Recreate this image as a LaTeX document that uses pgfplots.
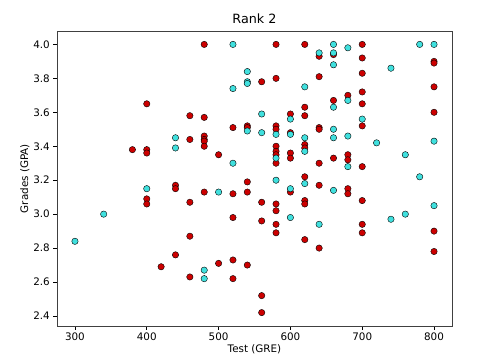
\documentclass[border=0pt]{standalone}
\usepackage{pgfplots}
\pgfplotsset{compat=1.18}
\usepackage{fontspec}
\setmainfont{DejaVu Sans}
\definecolor{ptred}{RGB}{204,0,0}
\definecolor{ptcyan}{RGB}{64,224,222}
\begin{document}
\begin{tikzpicture}
\begin{axis}[
  scale only axis,
  width=395bp, height=295bp,
  xmin=275, xmax=825, ymin=2.341, ymax=4.079,
  xtick={300,400,500,600,700,800},
  ytick={2.4,2.6,2.8,3.0,3.2,3.4,3.6,3.8,4.0},
  yticklabel style={/pgf/number format/.cd, fixed, fixed zerofill, precision=1},
  /pgf/number format/assume math mode=true,
  tick align=outside,
  major tick length=3.7bp,
  tick style={line width=0.6bp, black},
  axis line style={line width=0.7bp, black!75},
  xtick pos=bottom, ytick pos=left,
  ticklabel style={font=\fontsize{10.4}{12}\selectfont, text=black},
  label style={font=\fontsize{10.4}{12}\selectfont, text=black},
  title style={font=\fontsize{12.8}{14}\selectfont, text=black, yshift=-2bp},
  title={Rank 2},
  xlabel={Test (GRE)},
  ylabel={Grades (GPA)},
  xlabel style={yshift=3bp},
  ylabel style={yshift=-3bp},
  every axis plot/.append style={only marks, mark=*, mark size=3.2bp, mark options={line width=0.6bp, draw=black}},
]
% not admitted (red)
\addplot[mark options={fill=ptred}] coordinates {
(380,3.38)
(400,3.65) (400,3.38) (400,3.36) (400,3.09) (400,3.06)
(420,2.69)
(440,3.17) (440,3.15) (440,2.76)
(460,3.58) (460,3.44) (460,3.07) (460,2.87) (460,2.63)
(480,4.00) (480,3.57) (480,3.46) (480,3.44) (480,3.43) (480,3.40) (480,3.13)
(500,3.35) (500,2.71)
(520,3.51) (520,3.12) (520,2.98) (520,2.73) (520,2.62)
(540,3.52) (540,3.51) (540,3.19) (540,3.13) (540,2.70)
(560,3.78) (560,3.07) (560,2.96) (560,2.52) (560,2.42)
(580,4.00) (580,3.80) (580,3.52) (580,3.50) (580,3.40) (580,3.37) (580,3.35) (580,3.30) (580,3.06) (580,3.02) (580,2.94) (580,2.89)
(600,3.59) (600,3.48) (600,3.36) (600,3.33) (600,3.13)
(620,4.00) (620,3.63) (620,3.58) (620,3.41) (620,3.39) (620,3.22) (620,3.08) (620,3.06) (620,2.85)
(640,3.93) (640,3.81) (640,3.51) (640,3.50) (640,3.30) (640,3.17) (640,2.80)
(660,3.94) (660,3.67) (660,3.33)
(680,3.70) (680,3.35) (680,3.32) (680,3.15) (680,3.12)
(700,4.00) (700,3.92) (700,3.83) (700,3.72) (700,3.65) (700,3.52) (700,3.28) (700,3.08) (700,2.94) (700,2.89)
(800,3.90) (800,3.89) (800,3.75) (800,3.60) (800,2.90) (800,2.78)
};
% admitted (cyan)
\addplot[mark options={fill=ptcyan}] coordinates {
(300,2.84) (340,3.00) (400,3.15) (440,3.45) (440,3.39)
(480,2.67) (480,2.62)
(500,3.13)
(520,4.00) (520,3.74) (520,3.30)
(540,3.84) (540,3.78) (540,3.77) (540,3.49)
(560,3.59) (560,3.48)
(580,3.47) (580,3.33) (580,3.20)
(600,3.56) (600,3.47) (600,3.15) (600,2.98)
(620,3.75) (620,3.45) (620,3.37) (620,3.18)
(640,3.95) (640,2.94)
(660,4.00) (660,3.95) (660,3.88) (660,3.63) (660,3.50) (660,3.45) (660,3.14)
(680,3.98) (680,3.67) (680,3.46) (680,3.28)
(700,3.56)
(720,3.42)
(740,3.86) (740,2.97)
(760,3.35) (760,3.00)
(780,4.00) (780,3.22)
(800,4.00) (800,3.43) (800,3.05)
};
\end{axis}
\pgfresetboundingbox
\useasboundingbox ([shift={(-57bp,-38bp)}]current axis.south west) rectangle ([shift={(38bp,31bp)}]current axis.north east);
\end{tikzpicture}
\end{document}
